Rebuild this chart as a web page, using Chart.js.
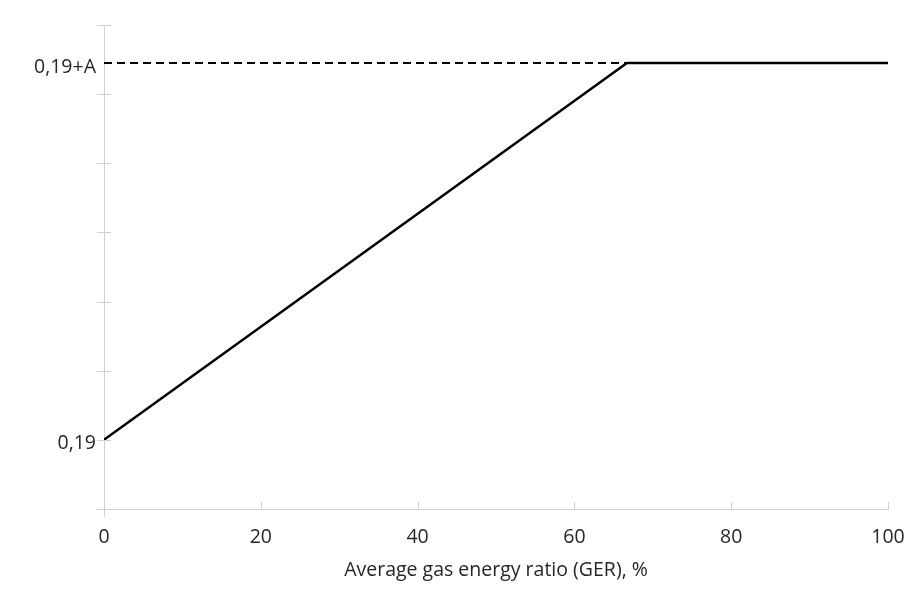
<!DOCTYPE html>
<html>
<head>
<meta charset="utf-8">
<script src="https://cdn.jsdelivr.net/npm/chart.js@4.4.1/dist/chart.umd.min.js"></script>
<style>
html,body{margin:0;padding:0;background:#fff;}
#wrap{width:905px;height:595px;position:relative;}
</style>
</head>
<body>
<div id="wrap"><canvas id="c" width="905" height="595"></canvas></div>
<script>
// Data (y in abstract axis units: tick marks at integers 0..7)
const gerValues = [0, 66.7, 100];           // Average gas energy ratio (GER), %
const ratioValues = [1, 6.45, 6.45];        // 0,19 -> 0,19+A
const capLineX = [0, 66.7];                 // dashed reference line
const capLineY = [6.45, 6.45];
const xTicks = [0, 20, 40, 60, 80, 100];
const yTickMarks = [0, 1, 2, 3, 4, 5, 6, 7];
const yLabelValues = [1, 6.45];
const yLabelTexts = ['0,19', '0,19+A'];

const FONT = '"Open Sans", sans-serif';
const FS = 19.5;
const AXIS_COLOR = '#d0d0d0';
const TEXT_COLOR = '#262626';

const tickPlugin = {
  id: 'tickMarks',
  afterDraw(chart) {
    const ctx = chart.ctx;
    const xs = chart.scales.x, ys = chart.scales.y;
    const x0 = xs.getPixelForValue(0);
    const yb = ys.getPixelForValue(0);
    ctx.save();
    ctx.strokeStyle = AXIS_COLOR;
    ctx.lineWidth = 1;
    ctx.beginPath();
    yTickMarks.forEach(v => {
      const p = Math.round(ys.getPixelForValue(v)) + 0.5;
      ctx.moveTo(x0 - 7, p); ctx.lineTo(x0 + 7, p);
    });
    xTicks.forEach(v => {
      const p = Math.round(xs.getPixelForValue(v)) + 0.5;
      ctx.moveTo(p, yb - 7); ctx.lineTo(p, yb);
    });
    ctx.moveTo(Math.round(x0) + 0.5, yb); ctx.lineTo(Math.round(x0) + 0.5, yb + 8);
    ctx.moveTo(x0 - 7, Math.round(yb) + 0.5); ctx.lineTo(x0, Math.round(yb) + 0.5);
    ctx.stroke();
    ctx.restore();
  }
};

new Chart(document.getElementById('c'), {
  type: 'scatter',
  data: {
    datasets: [
      {
        data: capLineX.map((x, i) => ({x, y: capLineY[i]})),
        showLine: true,
        borderColor: '#000',
        borderWidth: 2,
        borderDash: [8, 5],
        pointRadius: 0,
        order: 2
      },
      {
        data: gerValues.map((x, i) => ({x, y: ratioValues[i]})),
        showLine: true,
        borderColor: '#000',
        borderWidth: 2.5,
        pointRadius: 0,
        order: 1
      }
    ]
  },
  options: {
    responsive: false,
    animation: false,
    events: [],
    layout: {padding: {top: 25, right: 17, left: 0, bottom: 0}},
    plugins: {legend: {display: false}, tooltip: {enabled: false}},
    scales: {
      x: {
        type: 'linear', min: 0, max: 100,
        afterBuildTicks: s => { s.ticks = xTicks.map(v => ({value: v})); },
        afterFit: s => { s.height = 86; s.paddingRight = 0; s.paddingLeft = 0; },
        grid: {display: false, drawTicks: false},
        border: {display: true, color: AXIS_COLOR, width: 1},
        ticks: {color: TEXT_COLOR, font: {family: FONT, size: FS}, padding: 17, maxRotation: 0},
        title: {display: true, text: 'Average gas energy ratio (GER), %', color: TEXT_COLOR,
                font: {family: FONT, size: FS}, padding: {top: 4, bottom: 13}}
      },
      y: {
        type: 'linear', min: 0, max: 7,
        afterBuildTicks: s => { s.ticks = yLabelValues.map(v => ({value: v})); },
        afterFit: s => { s.width = 104; },
        grid: {display: false, drawTicks: false},
        border: {display: true, color: AXIS_COLOR, width: 1},
        ticks: {
          color: TEXT_COLOR, font: {family: FONT, size: FS}, padding: 8, labelOffset: 4,
          callback: v => { const i = yLabelValues.indexOf(v); return i >= 0 ? yLabelTexts[i] : ''; }
        }
      }
    }
  },
  plugins: [tickPlugin]
});
</script>
</body>
</html>
